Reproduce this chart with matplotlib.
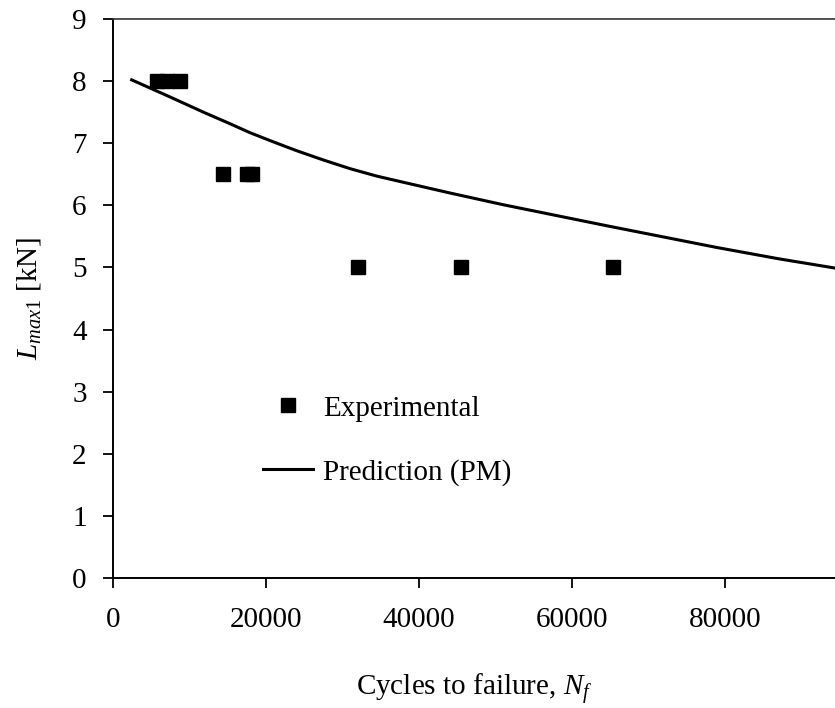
import matplotlib
matplotlib.use("Agg")
import matplotlib.pyplot as plt

plt.rcParams['font.family'] = ['Liberation Serif', 'DejaVu Serif']
plt.rcParams['mathtext.fontset'] = 'custom'
plt.rcParams['mathtext.rm'] = 'Liberation Serif'
plt.rcParams['mathtext.it'] = 'Liberation Serif:italic'

# experimental points (cycles to failure, max load)
exp_cycles = [5800, 7100, 8700, 14400, 17500, 18200, 32000, 45500, 65400]
exp_load = [8.0, 8.0, 8.0, 6.5, 6.5, 6.5, 5.0, 5.0, 5.0]

# prediction curve (PM)
pred_cycles = [2440, 7000, 12000, 15000, 17900, 21000, 24000, 27500, 31000,
               34500, 38000, 44000, 51000, 57000, 65000, 72000, 79000, 87000, 94400]
pred_load = [8.02, 7.77, 7.49, 7.33, 7.17, 7.02, 6.88, 6.73, 6.59,
             6.47, 6.37, 6.20, 6.01, 5.86, 5.66, 5.49, 5.32, 5.14, 4.99]

x_ticks = [0, 20000, 40000, 60000, 80000]
y_ticks = list(range(0, 10))

fig = plt.figure(figsize=(8.35, 7.08), dpi=100)
ax = fig.add_axes([0.1353, 0.1836, 0.8647, 0.7896])

ax.plot(exp_cycles, exp_load, 's', color='black', markersize=10, label='Experimental')
ax.plot(pred_cycles, pred_load, '-', color='black', linewidth=2.2,
        solid_joinstyle='round', label='Prediction (PM)')

ax.set_xlim(0, 94400)
ax.set_ylim(0, 9)
ax.set_xticks(x_ticks)
ax.set_yticks(y_ticks)
ax.tick_params(direction='out', length=7, width=1.3, labelsize=21)
ax.tick_params(axis='y', pad=12)
ax.tick_params(axis='x', pad=14)

ax.spines['right'].set_visible(False)
ax.spines['top'].set_color('#333333')
ax.spines['top'].set_linewidth(1.2)
ax.spines['left'].set_linewidth(1.4)
ax.spines['bottom'].set_linewidth(1.4)

ax.set_xlabel('Cycles to failure, $N_f$', fontsize=21, labelpad=28)
ax.set_ylabel(r'$L_{\mathit{max1}}$ [kN]', fontsize=21, labelpad=21)

ax.legend(loc='upper left', bbox_to_anchor=(0.2077, 0.327), frameon=False,
          fontsize=21, handlelength=1.71, handletextpad=0.34, labelspacing=1.28,
          borderpad=0, borderaxespad=0)

fig.savefig('out.png', dpi=100)
